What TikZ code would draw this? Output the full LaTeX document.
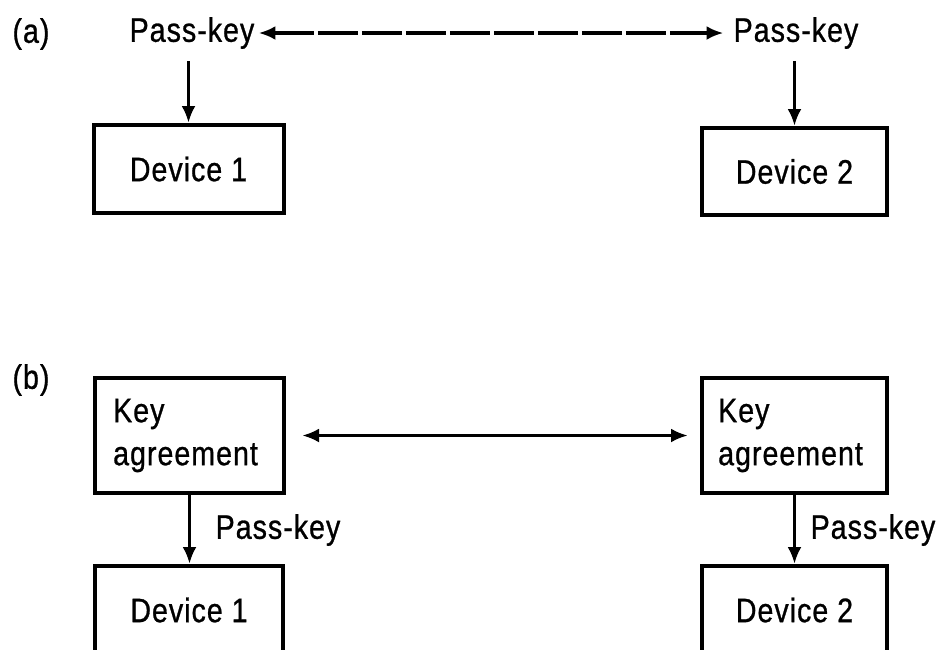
\documentclass[tikz,border=0pt]{standalone}
\usepackage{fontspec}
\setmainfont{Liberation Sans}[FakeStretch=0.84,FakeBold=0.8,LetterSpace=3]
\usetikzlibrary{arrows.meta}
\begin{document}
\begin{tikzpicture}[x=1pt,y=-1pt,
  every node/.style={font=\fontsize{34}{43}\selectfont, inner sep=0pt},
  box/.style={draw, line width=4pt},
  arr/.style={line width=3.5pt, -{Latex[length=17pt,width=14pt]}},
  darr/.style={line width=3.5pt, {Latex[length=17pt,width=14pt]}-{Latex[length=17pt,width=14pt]}}]
\useasboundingbox (0,0) rectangle (940,649);
\clip (0,0) rectangle (940,649);
% (a)
\node (la) at (31,34) {(a)};
\node (pk1) at (192,33) {Pass-key};
\node (pk2) at (796,33) {Pass-key};
\node[box, minimum width=190pt, minimum height=88pt] (d1) at (188.5,169) {Device 1};
\node[box, minimum width=185pt, minimum height=87pt] (d2) at (794.5,171.5) {Device 2};
\draw[darr, dash pattern=on 40pt off 4pt, shorten <=4pt, shorten >=10pt] (pk1.east) -- (pk2.west);
\draw[arr] (pk1.south -| d1.north) ++(0,12) coordinate (s1) (s1) -- (d1.north);
\draw[arr] (pk2.south -| d2.north) ++(0,12) coordinate (s2) (s2) -- (d2.north);
% (b)
\node (lb) at (31,380) {(b)};
\node[box, minimum width=189pt, minimum height=115pt] (k1) at (189.5,435.5) {};
\node[box, minimum width=185pt, minimum height=115pt] (k2) at (794.5,435.5) {};
\node[anchor=west, align=left] (t1) at ([xshift=20pt]k1.west) {Key\\agreement};
\node[anchor=west, align=left] (t2) at ([xshift=18pt]k2.west) {Key\\agreement};
\draw[darr, shorten <=16pt, shorten >=12pt] (k1.east) -- (k2.west);
\node[box, minimum width=188pt, minimum height=88pt] (b1) at (189,610) {Device 1};
\node[box, minimum width=185pt, minimum height=88pt] (b2) at (794.5,610) {Device 2};
\draw[arr] (k1.south) -- (b1.north -| k1.south);
\draw[arr] (k2.south) -- (b2.north);
\node (p1) at (278,530) {Pass-key};
\node (p2) at (873,530) {Pass-key};
\end{tikzpicture}
\end{document}
